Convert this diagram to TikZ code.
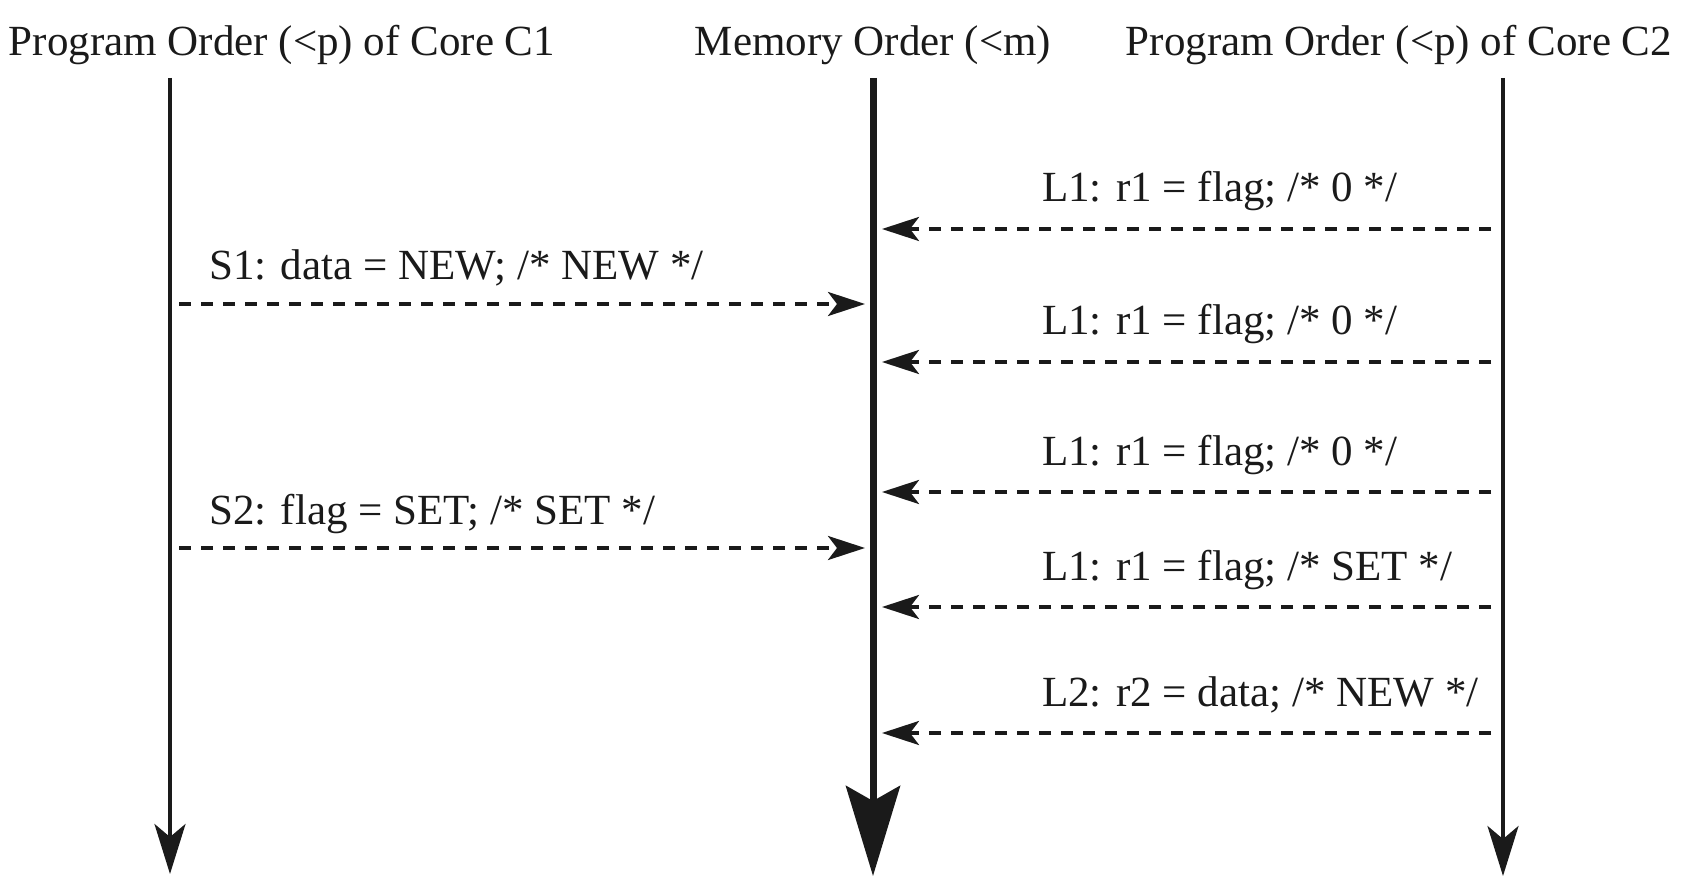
\documentclass[tikz,border=0pt]{standalone}
\usepackage{fontspec}
\setmainfont{Liberation Serif}
\usetikzlibrary{arrows.meta}
\definecolor{ink}{HTML}{1A1A1A}
\begin{document}
\begin{tikzpicture}[x=1pt,y=-1pt,
  lbl/.style={anchor=base west, inner sep=0pt, text=ink, font=\fontsize{43}{48}\selectfont},
  ttl/.style={anchor=base, inner sep=0pt, text=ink, font=\fontsize{43}{48}\selectfont},
  prog/.style={draw=ink, line width=3.4pt, -{Stealth[length=50pt,width=31pt,inset=13pt]}},
  mem/.style={draw=ink, line width=7pt, -{Stealth[length=90pt,width=54pt,inset=15pt]}},
  msg/.style={draw=ink, line width=3.6pt, dash pattern=on 12pt off 10pt, -{Stealth[length=37pt,width=24pt,inset=9pt]}},
  ]
\useasboundingbox (0,0) rectangle (1692,890);
% titles
\node[ttl] (t1) at (282,56) {Program Order (<p) of Core C1};
\node[ttl] (tm) at (873,56) {Memory Order (<m)};
\node[ttl] (t2) at (1399,56) {Program Order (<p) of Core C2};
% time lines
\coordinate (c1top) at (170,78);  \coordinate (c1bot) at (170,874);
\coordinate (mtop) at (873,78);   \coordinate (mbot) at (873,876);
\coordinate (c2top) at (1503,78); \coordinate (c2bot) at (1503,876);
\draw[prog] (c1top) -- (c1bot);
\draw[mem] (mtop) -- (mbot);
\draw[prog] (c2top) -- (c2bot);
% stores from C1
\coordinate (s1a) at (179,304); \coordinate (s1b) at (865,304);
\coordinate (s2a) at (179,548); \coordinate (s2b) at (865,548);
\draw[msg] (s1a) -- (s1b);
\draw[msg] (s2a) -- (s2b);
\node[lbl] (s1l) at (209,280) {S1: data = NEW; /* NEW */};
\node[lbl] (s2l) at (209,524) {S2: flag = SET; /* SET */};
% loads from C2
\foreach \n/\y/\t in {a/229/{L1: r1 = flag; /* 0 */},
                      b/362/{L1: r1 = flag; /* 0 */},
                      c/492/{L1: r1 = flag; /* 0 */},
                      d/607/{L1: r1 = flag; /* SET */},
                      e/733/{L2: r2 = data; /* NEW */}}{
  \coordinate (l\n a) at (1491,\y);
  \coordinate (l\n b) at (882,\y);
  \draw[msg] (l\n a) -- (l\n b);
  \node[lbl] (l\n l) at (1042,\y-27) {\t};
}
\end{tikzpicture}
\end{document}
